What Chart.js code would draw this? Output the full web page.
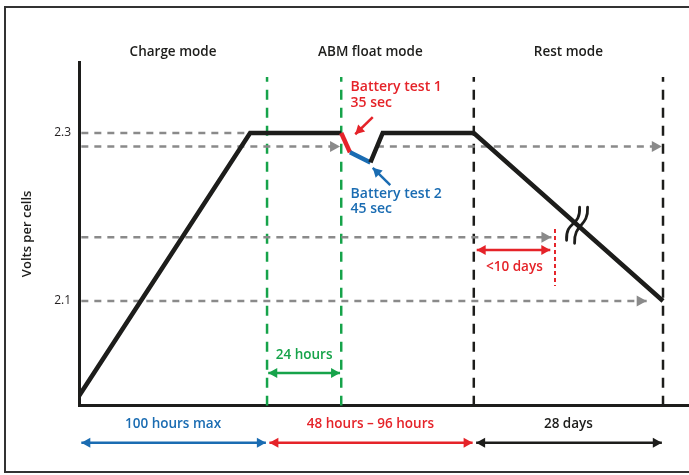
<!DOCTYPE html>
<html>
<head>
<meta charset="utf-8">
<script src="https://cdn.jsdelivr.net/npm/chart.js@4.4.1/dist/chart.umd.min.js"></script>
<style>
    html, body { margin: 0; padding: 0; background: #fff; }
    #wrap { width: 689px; height: 475px; }
</style>
</head>
<body>
<div id="wrap"><canvas id="chart" width="689" height="475"></canvas></div>
<script>
// ========== DATA ==========
const modeNames = ['Charge mode', 'ABM float mode', 'Rest mode'];
const durationNames = ['100 hours max', '48 hours – 96 hours', '28 days'];
const phaseEdges = [0, 32.2, 67.6, 100];          // x units (time, not to scale)
const yTicks = [2.1, 2.3];

const voltTimes = [0, 29.3, 44.9, 46.4, 49.9, 52.0, 67.6, 100];
const voltValues = [1.987, 2.3, 2.3, 2.277, 2.265, 2.3, 2.3, 2.1];

const refLevels = [2.3, 2.284, 2.284, 2.176, 2.1];
const refStarts = [0.4, 0.4, 51.0, 0.4, 0.4];
const refEnds = [29.3, 44.7, 99.8, 80.9, 97.2];

const floatWindow = [32.2, 44.9];     // 24 hours
const restLimit = 81.5;               // < 10 days

const RED = '#e52329';
const BLUE = '#1a6cb2';
const GREEN = '#16a34a';
const BLACK = '#1d1d1b';
const GRAY = '#8a8a8a';
const FONT = "'Open Sans', sans-serif";

const Y_MIN = 1.9754;
const Y_MAX = 2.3845;
const Y_TOP_MARK = 2.3667;

// ========== DATASETS ==========
const pts = (xs, ys) => xs.map((x, i) => ({ x: x, y: ys[i] }));
const segColors = [BLACK, BLACK, RED, BLUE, BLACK, BLACK, BLACK];

const datasets = [];

datasets.push({
    data: pts(voltTimes, voltValues),
    borderColor: BLACK,
    borderWidth: 4.5,
    borderJoinStyle: 'miter',
    segment: { borderColor: c => segColors[c.p0DataIndex] }
});

// battery test pointers
datasets.push({ data: [{ x: 50.3, y: 2.319 }, { x: 47.3, y: 2.2985 }], borderColor: RED, borderWidth: 2.5, arrow: 'end', arrowColor: RED });
datasets.push({ data: [{ x: 53.3, y: 2.238 }, { x: 50.3, y: 2.2585 }], borderColor: BLUE, borderWidth: 2.5, arrow: 'end', arrowColor: BLUE });

// duration arrows
datasets.push({ data: [{ x: floatWindow[0] + 0.2, y: 2.0143 }, { x: floatWindow[1] - 0.2, y: 2.0143 }], borderColor: GREEN, borderWidth: 2.5, arrow: 'both', arrowColor: GREEN });
datasets.push({ data: [{ x: phaseEdges[2] + 0.5, y: 2.1607 }, { x: restLimit - 0.8, y: 2.1607 }], borderColor: RED, borderWidth: 2.5, arrow: 'both', arrowColor: RED });
const bottomColors = [BLUE, RED, BLACK];
for (let i = 0; i < 3; i++) {
    datasets.push({
        data: [{ x: phaseEdges[i] + 0.4, y: 1.9313 }, { x: phaseEdges[i + 1] - 0.2, y: 1.9313 }],
        borderColor: bottomColors[i], borderWidth: 2.5, arrow: 'both', arrowColor: bottomColors[i], clip: false
    });
}

// red limit marker
datasets.push({ data: [{ x: restLimit, y: 2.1857 }, { x: restLimit, y: 2.118 }], borderColor: RED, borderWidth: 2, borderDash: [4, 3] });

// reference levels
refLevels.forEach((lvl, i) => {
    datasets.push({
        data: [{ x: refStarts[i], y: lvl }, { x: refEnds[i], y: lvl }],
        borderColor: GRAY, borderWidth: 2.5, borderDash: [7, 6],
        arrow: i > 0 ? 'end' : null, arrowColor: GRAY
    });
});

// phase boundaries
floatWindow.forEach(x => {
    datasets.push({ data: [{ x: x, y: Y_MIN }, { x: x, y: Y_TOP_MARK }], borderColor: GREEN, borderWidth: 2.5, borderDash: [10, 8] });
});
[phaseEdges[2], phaseEdges[3]].forEach(x => {
    datasets.push({ data: [{ x: x, y: Y_MIN }, { x: x, y: Y_TOP_MARK }], borderColor: BLACK, borderWidth: 2.5, borderDash: [10, 8] });
});

datasets.forEach(d => { d.pointRadius = 0; d.fill = false; d.tension = 0; });

// ========== PLUGINS ==========
function arrowHead(ctx, x1, y1, x2, y2, len, half, color) {
    const a = Math.atan2(y2 - y1, x2 - x1);
    ctx.save();
    ctx.translate(x2, y2);
    ctx.rotate(a);
    ctx.fillStyle = color;
    ctx.beginPath();
    ctx.moveTo(0, 0);
    ctx.lineTo(-len, -half);
    ctx.lineTo(-len, half);
    ctx.closePath();
    ctx.fill();
    ctx.restore();
}

const arrowPlugin = {
    id: 'arrows',
    afterDatasetsDraw(chart) {
        const ctx = chart.ctx;
        chart.data.datasets.forEach((ds, i) => {
            if (!ds.arrow) return;
            const p = chart.getDatasetMeta(i).data;
            const n = p.length;
            const big = ds.arrowColor !== GRAY;
            const len = big ? 9 : 10;
            const half = big ? 5 : 5.5;
            arrowHead(ctx, p[n - 2].x, p[n - 2].y, p[n - 1].x, p[n - 1].y, len, half, ds.arrowColor);
            if (ds.arrow === 'both') arrowHead(ctx, p[1].x, p[1].y, p[0].x, p[0].y, len, half, ds.arrowColor);
        });
    }
};

const textPlugin = {
    id: 'texts',
    beforeDraw(chart) {
        const ctx = chart.ctx;
        ctx.save();
        ctx.strokeStyle = '#333';
        ctx.lineWidth = 2;
        ctx.strokeRect(5, 7, 700, 465);
        ctx.restore();
    },
    afterDatasetsDraw(chart) {
        const ctx = chart.ctx;
        const xs = chart.scales.x, ys = chart.scales.y;
        ctx.save();

        // break symbol on the rest-mode slope
        const bx = 85.2;
        const by = 2.3 + (bx - 67.6) / (100 - 67.6) * (2.1 - 2.3);
        const px = xs.getPixelForValue(bx), py = ys.getPixelForValue(by);
        ctx.translate(px, py);
        ctx.strokeStyle = BLACK;
        ctx.lineWidth = 2.8;
        ctx.lineCap = 'round';
        [[-10, 16, 3, -17], [-2, 19, 11, -17]].forEach(c => {
            ctx.beginPath();
            ctx.moveTo(c[0], c[1]);
            ctx.bezierCurveTo(c[0] - 1, c[1] - 20, c[2] + 1, c[3] + 20, c[2], c[3]);
            ctx.stroke();
        });
        ctx.setTransform(1, 0, 0, 1, 0, 0);

        ctx.textAlign = 'center';
        ctx.textBaseline = 'middle';
        ctx.fillStyle = BLACK;
        ctx.font = '600 13.5px ' + FONT;
        for (let i = 0; i < 3; i++) {
            const cx = xs.getPixelForValue((phaseEdges[i] + phaseEdges[i + 1]) / 2);
            ctx.fillText(modeNames[i], cx, 52);
        }
        const durColors = [BLUE, RED, BLACK];
        for (let i = 0; i < 3; i++) {
            const cx = xs.getPixelForValue((phaseEdges[i] + phaseEdges[i + 1]) / 2);
            ctx.fillStyle = durColors[i];
            ctx.fillText(durationNames[i], cx, 424);
        }

        ctx.fillStyle = GREEN;
        ctx.fillText('24 hours', xs.getPixelForValue((floatWindow[0] + floatWindow[1]) / 2), 355);
        ctx.fillStyle = RED;
        ctx.fillText('<10 days', xs.getPixelForValue((phaseEdges[2] + restLimit) / 2), 267);

        ctx.textAlign = 'left';
        ctx.font = '600 14px ' + FONT;
        const tx = xs.getPixelForValue(46.5);
        ctx.fillStyle = RED;
        ctx.fillText('Battery test 1', tx, 87);
        ctx.fillText('35 sec', tx, 103);
        ctx.fillStyle = BLUE;
        ctx.fillText('Battery test 2', tx, 194);
        ctx.fillText('45 sec', tx, 209);
        ctx.restore();
    }
};

// ========== CHART ==========
new Chart(document.getElementById('chart'), {
    type: 'line',
    data: { datasets: datasets },
    plugins: [textPlugin, arrowPlugin],
    options: {
        responsive: false,
        animation: false,
        layout: { padding: { top: 62, left: 0, right: 0, bottom: 0 } },
        plugins: { legend: { display: false }, tooltip: { enabled: false } },
        scales: {
            x: {
                type: 'linear', min: 0, max: 104.45,
                grid: { display: false, drawTicks: false },
                ticks: { display: false },
                border: { color: BLACK, width: 3 },
                afterFit: s => { s.height = 69.3; }
            },
            y: {
                type: 'linear', min: Y_MIN, max: Y_MAX,
                grid: { display: false, drawTicks: false },
                border: { color: BLACK, width: 3 },
                afterBuildTicks: s => { s.ticks = yTicks.map(v => ({ value: v })); },
                ticks: {
                    color: '#231f20', padding: 8,
                    font: { family: FONT, size: 12 },
                    callback: v => v.toFixed(1)
                },
                title: {
                    display: true, text: 'Volts per cells', color: BLACK,
                    font: { family: FONT, size: 13, weight: '600' },
                    padding: { top: 19, bottom: 0 }
                },
                afterFit: s => { s.width = 79; }
            }
        }
    }
});
</script>
</body>
</html>
